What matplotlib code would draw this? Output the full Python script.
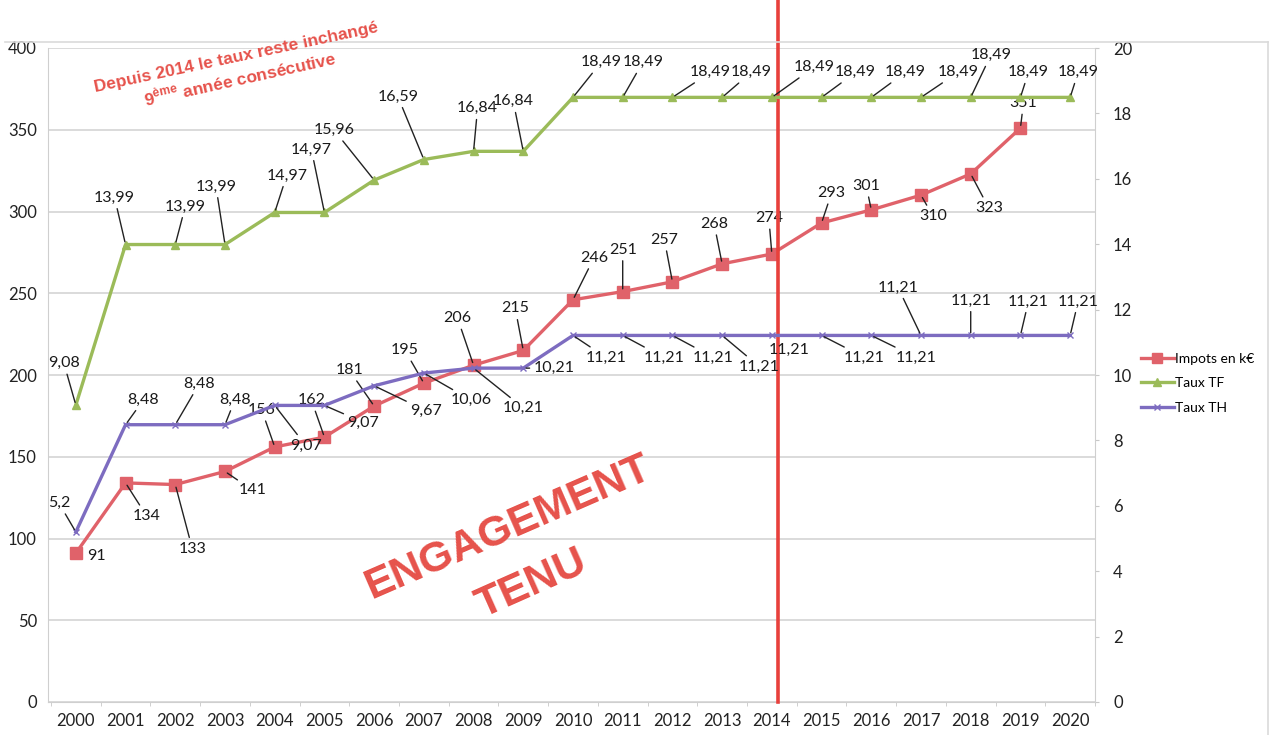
import matplotlib
matplotlib.use("Agg")
import matplotlib.pyplot as plt
from matplotlib.lines import Line2D

# data
years = ['2000', '2001', '2002', '2003', '2004', '2005', '2006', '2007', '2008', '2009', '2010',
         '2011', '2012', '2013', '2014', '2015', '2016', '2017', '2018', '2019', '2020']
impots = [91, 134, 133, 141, 156, 162, 181, 195, 206, 215, 246, 251, 257, 268, 274, 293,
          301, 310, 323, 351]
taux_tf = [9.08, 13.99, 13.99, 13.99, 14.97, 14.97, 15.96, 16.59, 16.84, 16.84, 18.49,
           18.49, 18.49, 18.49, 18.49, 18.49, 18.49, 18.49, 18.49, 18.49, 18.49]
taux_th = [5.2, 8.48, 8.48, 8.48, 9.07, 9.07, 9.67, 10.06, 10.21, 10.21, 11.21,
           11.21, 11.21, 11.21, 11.21, 11.21, 11.21, 11.21, 11.21, 11.21, 11.21]
left_ticks = [0, 50, 100, 150, 200, 250, 300, 350, 400]
right_ticks = [0, 2, 4, 6, 8, 10, 12, 14, 16, 18, 20]

# label offsets in pixels (dx, dy up)
imp_off = [(21, -3), (21, -33), (17, -64), (28, -19), (-13, 37), (-13, 37), (-25, 36), (-19, 33),
           (-16, 47), (-8, 42), (21, 42), (0, 42), (-8, 42), (-8, 40), (-3, 36), (10, 30),
           (-5, 24), (12, -21), (18, -34), (3, 25)]
tf_off = [(-12, 42), (-11, 47), (10, 38), (-9, 58), (12, 37), (-13, 63), (-40, 50), (-26, 63),
          (4, 43), (-10, 50), (28, 35), (20, 35), (38, 25), (29, 25), (42, 30), (34, 25),
          (34, 25), (37, 25), (20, 42), (8, 25), (8, 25)]
th_off = [(-17, 29), (18, 25), (24, 41), (10, 25), (31, -40), (39, -17), (52, -25), (47, -27),
          (50, -40), (31, 0), (33, -22), (41, -22), (41, -22), (37, -31), (17, -14), (43, -22),
          (45, -22), (-23, 48), (0, 35), (8, 34), (8, 34)]

RED = '#E0626A'
GREEN = '#9BBB59'
PURPLE = '#7D6CC0'
STAMP = '#E6524B'

plt.rcParams['font.family'] = ['Lato', 'DejaVu Sans']

fig = plt.figure(figsize=(12.75, 7.35), dpi=100)
ax = fig.add_axes([48 / 1275, 1 - 702 / 735, (1095 - 48) / 1275, (702 - 48) / 735])
ax2 = ax.twinx()

x = list(range(len(years)))

ax.set_xlim(-0.56, 20.47)
ax.set_ylim(0, 400)
ax2.set_ylim(0, 20)

for v in left_ticks:
    ax.axhline(v, color='#D4D4D4', lw=1.2, zorder=0)

ax.plot(x[:len(impots)], impots, color=RED, lw=2.4, marker='s', ms=8, zorder=4)
ax2.plot(x, taux_tf, color=GREEN, lw=2.4, marker='^', ms=6, zorder=3)
ax2.plot(x, taux_th, color=PURPLE, lw=2.4, marker='x', ms=4, mew=1, zorder=3)


def put_labels(axis, vals, offs, fmt):
    for i, v in enumerate(vals):
        dx, dy = offs[i]
        far = (dx * dx + dy * dy) ** 0.5 > 24
        axis.annotate(fmt(v), (i, v), xytext=(dx, dy), textcoords='offset pixels',
                      ha='center', va='center', fontsize=11.5, color='#1a1a1a',
                      arrowprops=dict(arrowstyle='-', color='#222222', lw=1.0,
                                      shrinkA=1, shrinkB=2) if far else None,
                      zorder=6)


put_labels(ax, impots, imp_off, lambda v: '%d' % v)
put_labels(ax2, taux_tf, tf_off, lambda v: ('%.2f' % v).replace('.', ','))
put_labels(ax2, taux_th, th_off, lambda v: ('%.2f' % v).rstrip('0').replace('.', ','))

ax.set_xticks(x)
ax.set_xticklabels(years)
ax.set_xticks([i - 0.5 for i in range(len(years) + 1)], minor=True)
ax.set_yticks(left_ticks)
ax2.set_yticks(right_ticks)
for a in (ax, ax2):
    a.tick_params(labelsize=12, colors='#222222', length=3, width=0.8)
    for s in a.spines.values():
        s.set_visible(False)
ax.tick_params(axis='x', which='major', pad=8, length=0)
ax.tick_params(axis='x', which='minor', length=3, color='#C8C8C8')
ax.tick_params(axis='y', length=0, pad=8)
ax2.tick_params(axis='y', color='#C8C8C8', pad=10)
ax.spines['left'].set_visible(True)
ax.spines['left'].set_color('#CFCFCF')
ax.spines['bottom'].set_visible(True)
ax.spines['bottom'].set_color('#CFCFCF')
ax2.spines['right'].set_visible(True)
ax2.spines['right'].set_color('#CFCFCF')

# red "engagement" line through 2014
ax.plot([14.13, 14.13], [0, 440], color='#E8403C', lw=2.6, clip_on=False, zorder=7)

# chart frame fragments from the scan
fig.add_artist(Line2D([5 / 1275, 1268 / 1275], [1 - 42 / 735, 1 - 42 / 735], color='#DADADA', lw=1.2))
fig.add_artist(Line2D([1268 / 1275, 1268 / 1275], [1 - 42 / 735, 0.0], color='#DADADA', lw=1.2))

handles = [Line2D([], [], color=RED, lw=2.4, marker='s', ms=7),
           Line2D([], [], color=GREEN, lw=2.4, marker='^', ms=6),
           Line2D([], [], color=PURPLE, lw=2.4, marker='x', ms=4)]
fig.legend(handles, ['Impots en k€', 'Taux TF', 'Taux TH'], loc='upper left',
           bbox_to_anchor=(1128 / 1275, 1 - 340 / 735), frameon=False, fontsize=10,
           handlelength=2.4, handletextpad=0.1, labelspacing=0.9)

stamp_font = ['Liberation Sans', 'DejaVu Sans']
fig.text(236 / 1275, 1 - 58 / 735, 'Depuis 2014 le taux reste inchangé', color=STAMP,
         family=stamp_font, weight='bold', fontsize=12.5,
         rotation=12, ha='center', va='center', rotation_mode='anchor')
fig.text(240 / 1275, 1 - 78 / 735, '9$^{\\mathregular{ème}}$ année consécutive', color=STAMP,
         family=stamp_font, weight='bold', fontsize=12.5,
         rotation=12.5, ha='center', va='center', rotation_mode='anchor')

fig.text(508 / 1275, 1 - 528 / 735, 'ENGAGEMENT', color=STAMP, family=stamp_font,
         weight='bold', fontsize=31, rotation=23.5, ha='center', va='center',
         rotation_mode='anchor')
fig.text(532 / 1275, 1 - 584 / 735, 'TENU', color=STAMP, family=stamp_font,
         weight='bold', fontsize=31, rotation=24, ha='center', va='center',
         rotation_mode='anchor')

fig.savefig('out.png', dpi=100, facecolor='white')
